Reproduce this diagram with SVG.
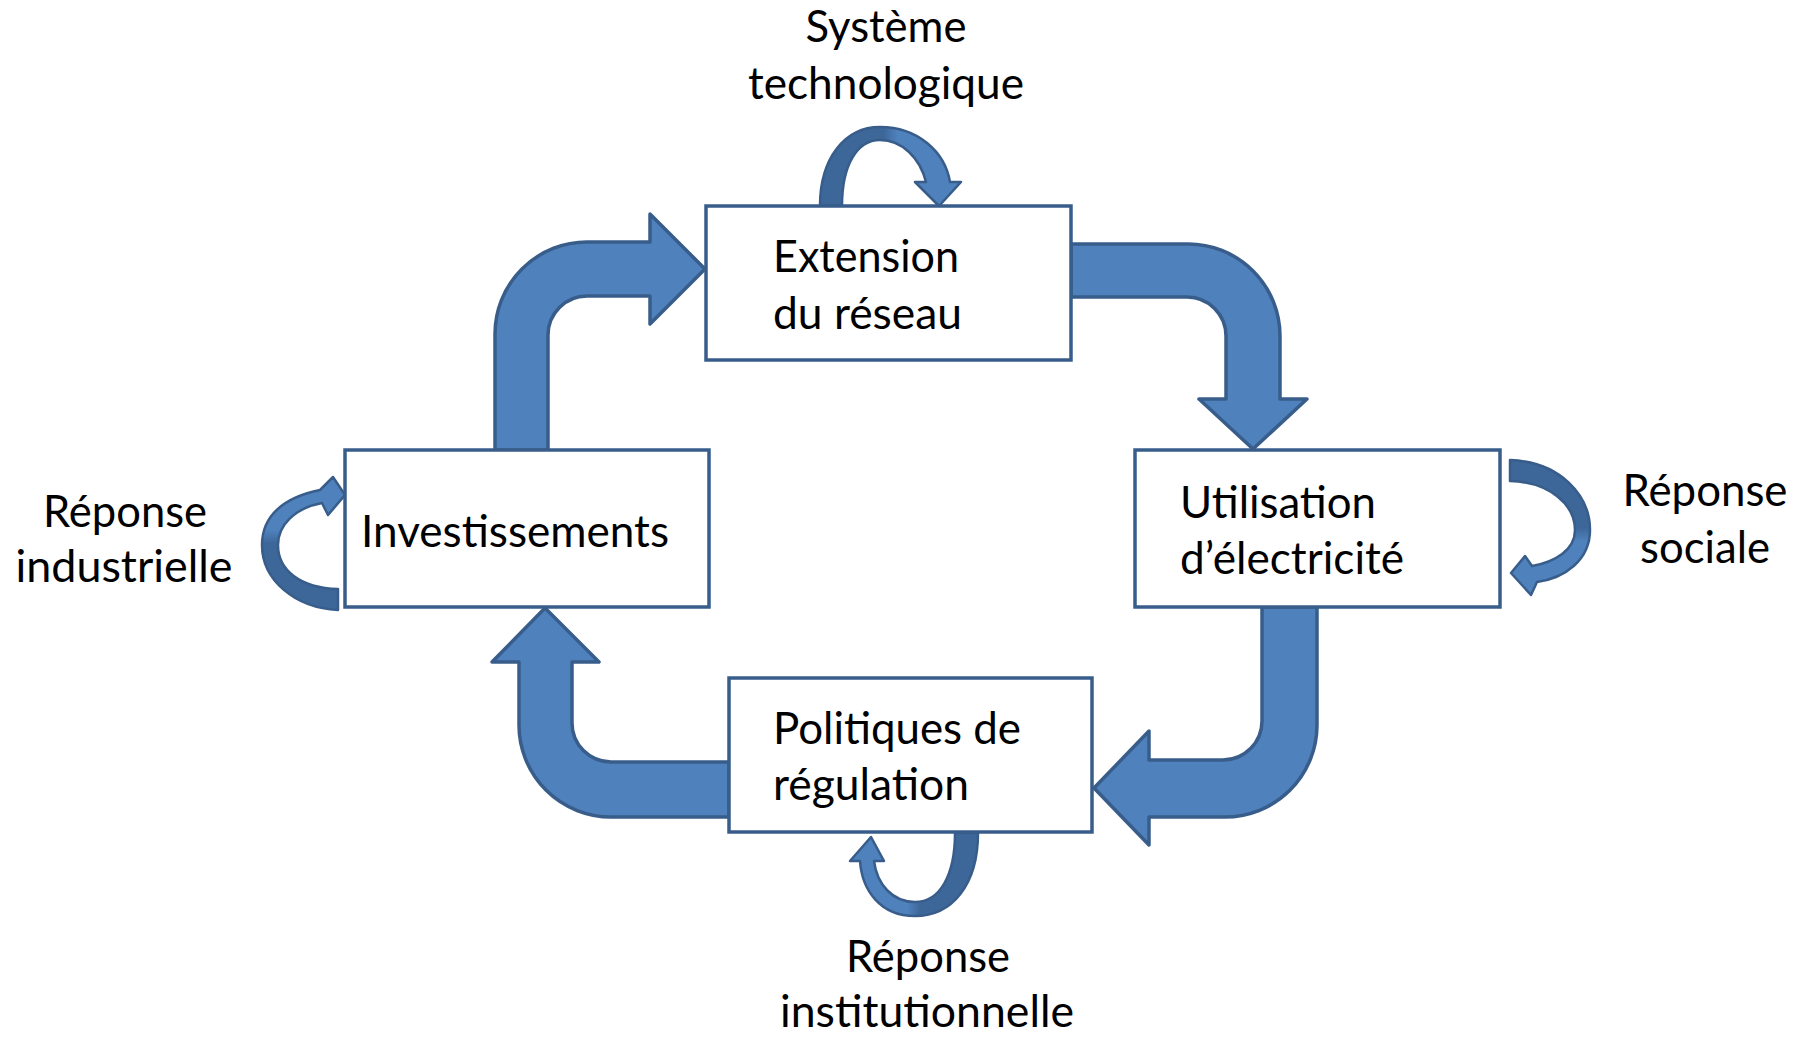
<svg xmlns="http://www.w3.org/2000/svg" width="1805" height="1037" viewBox="0 0 1805 1037">
<style>
.box{fill:#ffffff;stroke:#385D8A;stroke-width:3.5}
.big{fill:#4F81BD;stroke:#385D8A;stroke-width:3.5;stroke-linejoin:round}
.loop{stroke:#385D8A;stroke-width:2.5;stroke-linejoin:round}
.t{font-family:Lato,"Liberation Sans",sans-serif;font-size:44px;fill:#000}
.c{text-anchor:middle}
</style>
<defs>
<linearGradient id="gTop" x1="0" y1="0" x2="1" y2="0"><stop offset="0" stop-color="#3D6699"/><stop offset="0.45" stop-color="#3D6699"/><stop offset="0.55" stop-color="#4F81BD"/><stop offset="1" stop-color="#4F81BD"/></linearGradient>
<linearGradient id="gRight" x1="0" y1="0" x2="0" y2="1"><stop offset="0" stop-color="#3D6699"/><stop offset="0.5" stop-color="#3D6699"/><stop offset="0.6" stop-color="#4F81BD"/><stop offset="1" stop-color="#4F81BD"/></linearGradient>
<linearGradient id="gLeft" x1="0" y1="1" x2="0" y2="0"><stop offset="0" stop-color="#3D6699"/><stop offset="0.5" stop-color="#3D6699"/><stop offset="0.6" stop-color="#4F81BD"/><stop offset="1" stop-color="#4F81BD"/></linearGradient>
<linearGradient id="gBottom" x1="1" y1="0" x2="0" y2="0"><stop offset="0" stop-color="#3D6699"/><stop offset="0.45" stop-color="#3D6699"/><stop offset="0.55" stop-color="#4F81BD"/><stop offset="1" stop-color="#4F81BD"/></linearGradient>
</defs>
<g id="connectors">
<path class="big" d="M495,450 L495,334 A92,92 0 0 1 587,242 L650,242 L650,214 L705,269 L650,324 L650,296 L587,296 A39,39 0 0 0 548,335 L548,450 Z"/>
<path class="big" d="M1071,244 L1188,244 A92,92 0 0 1 1280,336 L1280,399 L1307,399 L1253,449 L1199,399 L1226,399 L1226,336 A39,39 0 0 0 1187,297 L1071,297 Z"/>
<path class="big" d="M1262,607 L1317,607 L1317,725 A92,92 0 0 1 1225,817 L1149,817 L1149,845 L1094,788 L1149,731 L1149,760 L1223,760 A39,39 0 0 0 1262,721 Z"/>
<path class="big" d="M729,817 L611,817 A92,92 0 0 1 519,725 L519,662 L492,662 L545,608 L599,662 L572,662 L572,723 A39,39 0 0 0 611,762 L729,762 Z"/>
<path class="loop" fill="url(#gTop)" d="M820,206 C820,158 845,127 880,127 C918,127 945,152 950,182 L961,182 L939,206 L915,182 L926,182 C920,158 902,140 880,140 C857,140 842,165 842,206 Z"/>
<path class="loop" fill="url(#gRight)" d="M1510,460 C1560,462 1590,495 1590,530 C1590,560 1565,578 1537,582 L1531,595 L1511,573 L1525,556 L1532,566 C1555,562 1575,550 1575,530 C1575,505 1550,482 1510,481 Z"/>
<path class="loop" fill="url(#gLeft)" d="M338,610 C295,608 262,580 262,545 C262,515 285,497 320,490 L333,477 L345,495 L328,515 L322,503 C295,508 278,525 278,545 C278,570 300,588 338,589 Z"/>
<path class="loop" fill="url(#gBottom)" d="M978,833 C978,885 952,916 915,916 C880,916 862,890 860,861 L850,861 L871,837 L884,861 L874,861 C877,885 893,902 915,902 C940,902 955,875 955,833 Z"/>
</g>
<g id="node-extension">
<rect class="box" x="706" y="206" width="365" height="154"/>
<text class="t" x="773" y="272" textLength="186" lengthAdjust="spacingAndGlyphs">Extension</text>
<text class="t" x="773" y="329" textLength="189" lengthAdjust="spacingAndGlyphs">du réseau</text>
</g>
<g id="node-investissements">
<rect class="box" x="345" y="450" width="364" height="157"/>
<text class="t" x="361" y="547" textLength="308" lengthAdjust="spacingAndGlyphs">Investissements</text>
</g>
<g id="node-utilisation">
<rect class="box" x="1135" y="450" width="365" height="157"/>
<text class="t" x="1180" y="518" textLength="196" lengthAdjust="spacingAndGlyphs">Utilisation</text>
<text class="t" x="1180" y="574" textLength="224" lengthAdjust="spacingAndGlyphs">d’électricité</text>
</g>
<g id="node-politiques">
<rect class="box" x="729" y="678" width="363" height="154"/>
<text class="t" x="773" y="744" textLength="248" lengthAdjust="spacingAndGlyphs">Politiques de</text>
<text class="t" x="773" y="800" textLength="196" lengthAdjust="spacingAndGlyphs">régulation</text>
</g>
<g id="label-systeme">
<text class="t c" x="886" y="42" textLength="161" lengthAdjust="spacingAndGlyphs">Système</text>
<text class="t c" x="886" y="99" textLength="276" lengthAdjust="spacingAndGlyphs">technologique</text>
</g>
<g id="label-industrielle">
<text class="t c" x="125" y="527" textLength="164" lengthAdjust="spacingAndGlyphs">Réponse</text>
<text class="t c" x="124" y="582" textLength="217" lengthAdjust="spacingAndGlyphs">industrielle</text>
</g>
<g id="label-sociale">
<text class="t c" x="1705" y="506" textLength="165" lengthAdjust="spacingAndGlyphs">Réponse</text>
<text class="t c" x="1705" y="563" textLength="130" lengthAdjust="spacingAndGlyphs">sociale</text>
</g>
<g id="label-institutionnelle">
<text class="t c" x="928" y="972" textLength="164" lengthAdjust="spacingAndGlyphs">Réponse</text>
<text class="t c" x="927" y="1027" textLength="294" lengthAdjust="spacingAndGlyphs">institutionnelle</text>
</g>
</svg>
